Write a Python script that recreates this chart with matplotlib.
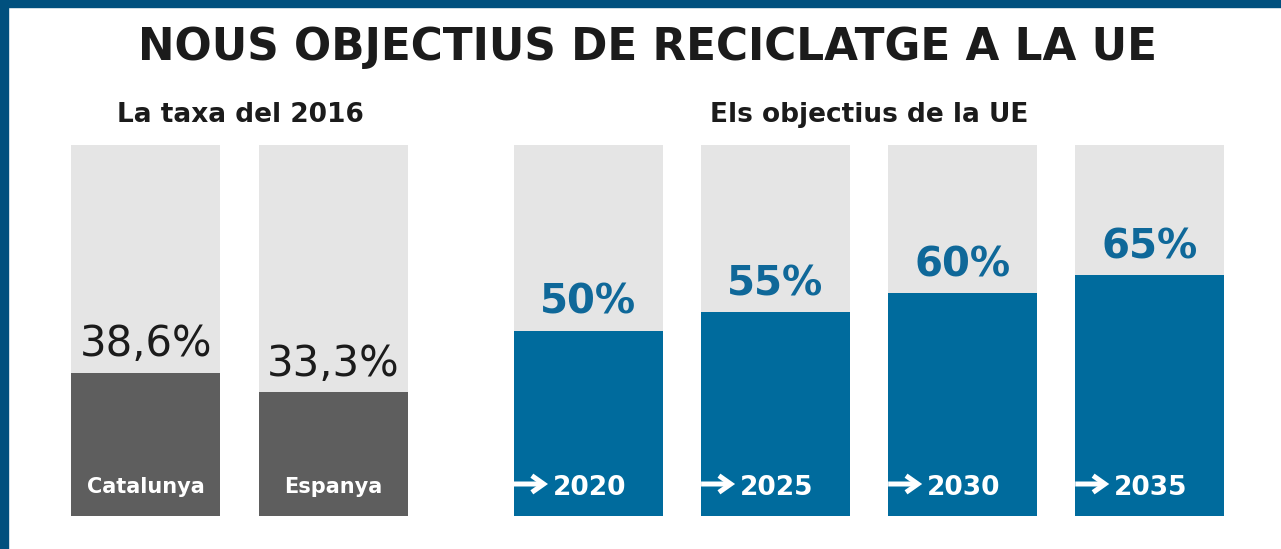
import matplotlib
matplotlib.use("Agg")
import matplotlib.pyplot as plt
from matplotlib.patches import Rectangle
from matplotlib.transforms import offset_copy

# ---- data ----
title = "NOUS OBJECTIUS DE RECICLATGE A LA UE"
left_subtitle = "La taxa del 2016"
right_subtitle = "Els objectius de la UE"
regions = ["Catalunya", "Espanya"]
region_rates = [38.6, 33.3]
region_labels = ["38,6%", "33,3%"]
years = ["2020", "2025", "2030", "2035"]
targets = [50, 55, 60, 65]
target_labels = ["50%", "55%", "60%", "65%"]

# ---- styles ----
W, H = 1281, 549
BG_GRAY = "#e5e5e5"
DARK_GRAY = "#5e5e5e"
BLUE = "#006b9d"
LABEL_BLUE = "#0f6899"
FRAME_BLUE = "#00507e"
TXT = "#1b1b1b"
FONT = "DejaVu Sans"

fig = plt.figure(figsize=(W / 100, H / 100), dpi=100)
fig.patch.set_facecolor("white")

def fx(px):
    return px / W

def fy(py):
    return 1 - py / H

# frame (top and left strips)
fig.patches.append(Rectangle((0, fy(7)), 1, 7 / H, transform=fig.transFigure,
                             color=FRAME_BLUE, zorder=0))
fig.patches.append(Rectangle((0, 0), 8 / W, 1, transform=fig.transFigure,
                             color=FRAME_BLUE, zorder=0))

fig.text(fx(647), fy(60), title, ha="center", va="baseline", fontsize=31.5,
         fontweight="bold", color=TXT, family=FONT)
fig.text(fx(240), fy(122), left_subtitle, ha="center", va="baseline", fontsize=19,
         fontweight="bold", color=TXT, family=FONT)
fig.text(fx(869), fy(122), right_subtitle, ha="center", va="baseline", fontsize=19,
         fontweight="bold", color=TXT, family=FONT)

BAR_TOP, BAR_BOT = 145, 516
w = 0.795

def make_ax(x0, x1, n):
    ax = fig.add_axes([fx(x0), fy(BAR_BOT), (x1 - x0) / W, (BAR_BOT - BAR_TOP) / H])
    ax.set_xlim(-w / 2, n - 1 + w / 2)
    ax.set_ylim(0, 100)
    ax.axis("off")
    return ax

# left panel
axl = make_ax(71, 408, len(regions))
xl = list(range(len(regions)))
axl.bar(xl, [100] * len(regions), width=w, color=BG_GRAY)
axl.bar(xl, region_rates, width=w, color=DARK_GRAY)
for x, v, lab, name in zip(xl, region_rates, region_labels, regions):
    axl.annotate(lab, (x, v), xytext=(0, 12), textcoords="offset points",
                 ha="center", va="baseline", fontsize=30, color=TXT, family=FONT)
    axl.annotate(name, (x, 0), xytext=(0, 16.5), textcoords="offset points",
                 ha="center", va="baseline", fontsize=15, fontweight="bold",
                 color="white", family=FONT)

# right panel
axr = make_ax(514, 1224, len(years))
xr = list(range(len(years)))
axr.bar(xr, [100] * len(years), width=w, color=BG_GRAY)
axr.bar(xr, targets, width=w, color=BLUE)
tail = offset_copy(axr.transData, fig=fig, x=0, y=32, units="dots")
head = offset_copy(axr.transData, fig=fig, x=34, y=32, units="dots")
for x, v, lab, yr in zip(xr, targets, target_labels, years):
    axr.annotate(lab, (x, v), xytext=(0, 12), textcoords="offset points",
                 ha="center", va="baseline", fontsize=29, fontweight="bold",
                 color=LABEL_BLUE, family=FONT)
    axr.annotate("", xy=(x - w / 2, 0), xycoords=head,
                 xytext=(x - w / 2, 0), textcoords=tail,
                 arrowprops=dict(arrowstyle="->,head_length=0.85,head_width=0.6",
                                 mutation_scale=10, lw=3.6, color="white",
                                 shrinkA=0, shrinkB=0,
                                 joinstyle="miter", capstyle="butt"))
    axr.annotate(yr, (x - w / 2, 0), xytext=(28, 15), textcoords="offset points",
                 ha="left", va="baseline", fontsize=19, fontweight="bold",
                 color="white", family=FONT)

fig.savefig("out.png", dpi=100)
